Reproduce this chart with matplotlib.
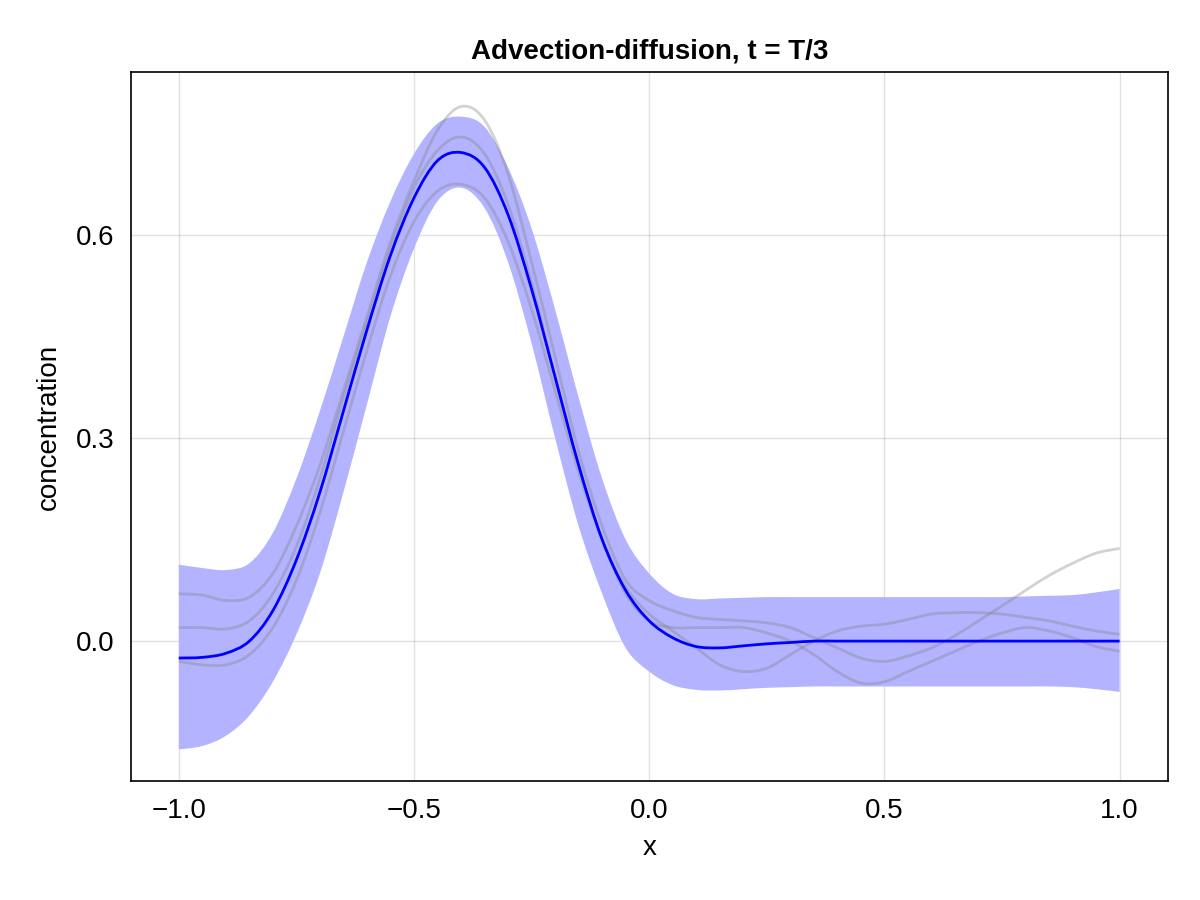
import numpy as np
import matplotlib.pyplot as plt
from matplotlib.path import Path
from matplotlib.patches import PathPatch

plt.rcParams['font.family'] = ['Liberation Sans', 'DejaVu Sans']

x = np.round(np.arange(-1.0, 1.0001, 0.05), 2)

mean = [-0.025, -0.024, -0.018, 0.000, 0.045, 0.12, 0.22, 0.34, 0.46, 0.57,
        0.655, 0.71, 0.722, 0.70, 0.63, 0.52, 0.39, 0.26, 0.15, 0.075,
        0.03, 0.005, -0.008, -0.01, -0.007, -0.004, -0.002, 0.0, 0.0, 0.0,
        0.0, 0.0, 0.0, 0.0, 0.0, 0.0, 0.0, 0.0, 0.0, 0.0, 0.0]

upper = [0.113, 0.108, 0.105, 0.115, 0.16, 0.24, 0.34, 0.45, 0.56, 0.65,
         0.72, 0.765, 0.775, 0.76, 0.70, 0.61, 0.49, 0.36, 0.24, 0.15,
         0.10, 0.07, 0.062, 0.063, 0.064, 0.065, 0.065, 0.065, 0.065, 0.065,
         0.065, 0.065, 0.065, 0.065, 0.065, 0.065, 0.066, 0.067, 0.068, 0.072, 0.077]

lower = [-0.16, -0.155, -0.14, -0.11, -0.06, 0.01, 0.10, 0.22, 0.35, 0.48,
         0.58, 0.65, 0.67, 0.64, 0.56, 0.44, 0.30, 0.17, 0.07, -0.01,
         -0.045, -0.065, -0.072, -0.073, -0.071, -0.069, -0.068, -0.067, -0.067, -0.067,
         -0.067, -0.067, -0.067, -0.067, -0.067, -0.067, -0.067, -0.067, -0.068, -0.071, -0.075]

sample_a = [0.07, 0.068, 0.06, 0.065, 0.1, 0.17, 0.26, 0.37, 0.48, 0.59,
            0.68, 0.755, 0.79, 0.77, 0.69, 0.56, 0.42, 0.28, 0.17, 0.09,
            0.06, 0.045, 0.035, 0.032, 0.03, 0.027, 0.02, 0.005, -0.01, -0.025,
            -0.03, -0.022, -0.01, 0.008, 0.03, 0.052, 0.075, 0.097, 0.115, 0.13, 0.137]

sample_b = [0.02, 0.02, 0.018, 0.03, 0.07, 0.14, 0.24, 0.36, 0.47, 0.58,
            0.67, 0.725, 0.745, 0.72, 0.645, 0.53, 0.39, 0.26, 0.15, 0.08,
            0.04, 0.015, -0.01, -0.035, -0.045, -0.04, -0.02, 0.0, 0.015, 0.022,
            0.025, 0.032, 0.04, 0.042, 0.042, 0.04, 0.035, 0.03, 0.022, 0.015, 0.01]

sample_c = [-0.03, -0.035, -0.035, -0.02, 0.02, 0.09, 0.19, 0.31, 0.43, 0.54,
            0.62, 0.665, 0.675, 0.655, 0.59, 0.49, 0.37, 0.25, 0.15, 0.07,
            0.03, 0.02, 0.02, 0.02, 0.02, 0.012, 0.0, -0.02, -0.045, -0.062,
            -0.06, -0.045, -0.03, -0.015, 0.0, 0.012, 0.02, 0.015, 0.005, -0.008, -0.015]


def smooth_path(xs, ys, start_move=True):
    # Catmull-Rom through the points, drawn as cubic Bezier segments
    p = np.column_stack([xs, ys]).astype(float)
    verts = [p[0]] if start_move else []
    codes = [Path.MOVETO] if start_move else []
    n = len(p)
    for i in range(n - 1):
        p0 = p[max(i - 1, 0)]
        p1, p2 = p[i], p[i + 1]
        p3 = p[min(i + 2, n - 1)]
        verts += [p1 + (p2 - p0) / 6, p2 - (p3 - p1) / 6, p2]
        codes += [Path.CURVE4] * 3
    return verts, codes


fig = plt.figure(figsize=(12, 9), dpi=100)
ax = fig.add_axes([0.109, 0.132, 0.864, 0.788])

v1, c1 = smooth_path(x, upper)
v2, c2 = smooth_path(x[::-1], lower[::-1], start_move=False)
band = Path(v1 + [np.array([x[-1], lower[-1]])] + v2 + [v1[0]],
            c1 + [Path.LINETO] + c2 + [Path.CLOSEPOLY])
ax.add_patch(PathPatch(band, facecolor=(0.7, 0.7, 1.0), edgecolor='none', zorder=1))

for s in (sample_a, sample_b, sample_c):
    v, c = smooth_path(x, s)
    ax.add_patch(PathPatch(Path(v, c), facecolor='none', edgecolor='gray',
                           alpha=0.35, linewidth=2, zorder=2))
v, c = smooth_path(x, mean)
ax.add_patch(PathPatch(Path(v, c), facecolor='none', edgecolor='blue',
                       linewidth=2, zorder=3))

ax.set_xlim(-1.102, 1.102)
ax.set_ylim(-0.207, 0.841)
ax.set_xticks([-1.0, -0.5, 0.0, 0.5, 1.0])
ax.set_xticklabels(['−1.0', '−0.5', '0.0', '0.5', '1.0'])
ax.set_yticks([0.0, 0.3, 0.6])
ax.set_yticklabels(['0.0', '0.3', '0.6'])
ax.grid(True, color='black', alpha=0.12, linewidth=1)
ax.set_axisbelow(True)
ax.tick_params(labelsize=20, length=0, pad=12)
for sp in ax.spines.values():
    sp.set_linewidth(1.2)

ax.set_xlabel('x', fontsize=20, labelpad=8)
ax.set_ylabel('concentration', fontsize=20, labelpad=10)
ax.set_title('Advection-diffusion, t = T/3', fontsize=20, fontweight='bold', pad=10)

fig.savefig('out.png', dpi=100)
